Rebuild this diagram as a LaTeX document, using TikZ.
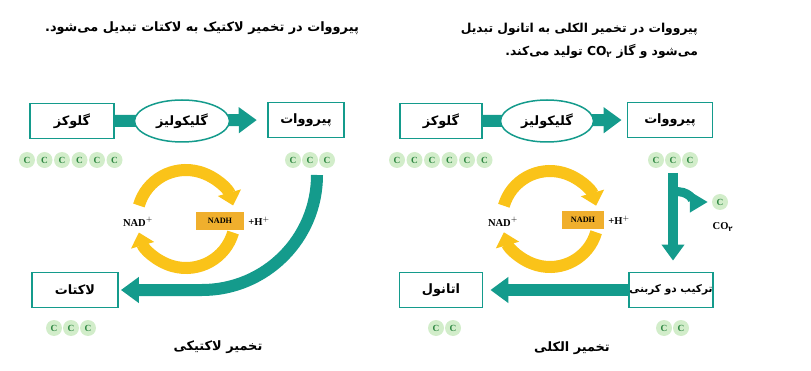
\documentclass[tikz,border=0pt]{standalone}
\usepackage{fontspec}
\setmainfont{Liberation Serif}
\newfontfamily\fafont[Script=Arabic]{DejaVu Sans}
\TeXXeTstate=1
\usetikzlibrary{
  arrows.meta,
  positioning,
  shapes.geometric
}
\definecolor{fermteal}{RGB}{20,155,140}
\definecolor{cycleyellow}{RGB}{250,195,25}
\definecolor{nadhfill}{RGB}{240,175,45}
\definecolor{carbonfill}{RGB}{210,237,202}
\definecolor{carbontext}{RGB}{45,135,65}
\newcommand{\fatext}[1]{{\fafont\beginR #1\endR}}
\tikzset{
  compound box/.style={
    draw=fermteal,
    line width=0.55mm,
    fill=white,
    minimum height=10.5mm,
    inner sep=1pt,
    font=\bfseries\fontsize{11}{13}\selectfont
  },
  enzyme/.style={
    ellipse,
    draw=fermteal,
    line width=0.45mm,
    fill=white,
    minimum width=28.5mm,
    minimum height=12.6mm,
    inner sep=0pt,
    font=\bfseries\fontsize{11}{13}\selectfont
  },
  carbon/.style={
    circle,
    fill=carbonfill,
    inner sep=0pt,
    minimum size=4.8mm,
    text=carbontext,
    font=\bfseries\footnotesize
  },
  flow arrow/.style={
    draw=fermteal,
    line width=3.6mm,
    -{Triangle[length=5.4mm,width=7.5mm]}
  },
  cycle arrow/.style={
    draw=cycleyellow,
    line width=3.6mm,
    -{Triangle[length=4mm,width=7mm]}
  },
  nadh box/.style={
    fill=nadhfill,
    minimum height=5.4mm,
    inner sep=0pt,
    font=\bfseries\scriptsize
  },
  caption/.style={
    font=\bfseries\fontsize{11}{13}\selectfont
  }
}

\begin{document}
\begin{tikzpicture}[x=0.3mm,y=-0.3mm]
  \useasboundingbox (0,0) rectangle (811,371);

    % ---------- lactic fermentation ----------
    \begin{scope}
      \node[caption] (ltitle) at (202,28)
        {\fatext{پیرووات در تخمیر لاکتیک به لاکتات تبدیل می‌شود.}};

      % glycolysis
      \node[compound box, minimum width=25mm] (lglc) at (72,121)
        {\fatext{گلوکز}};
      \node[compound box, minimum width=23mm] (lpyr) at (306,120)
        {\fatext{پیرووات}};
      \draw[flow arrow, shorten >=3mm] (lglc.east) -- (lpyr.west);
      \node[enzyme] (lgly) at (182,121) {\fatext{گلیکولیز}};

      \foreach \i/\x in {1/27,2/44.5,3/62,4/79.5,5/97,6/114.5}
        \node[carbon] (lg\i) at (\x,160) {C};
      \foreach \i/\x in {1/293,2/310,3/327}
        \node[carbon] (lp\i) at (\x,160) {C};

      % NAD cycle
      \coordinate (lcyc) at (186,219);
      \draw[cycle arrow] (lcyc) ++(196:49)
        arc[start angle=196, end angle=344, radius=49];
      \draw[cycle arrow] (lcyc) ++(16:49)
        arc[start angle=16, end angle=164, radius=49];
      \node[font=\bfseries\small] (lnad) at (138,222) {NAD$^{+}$};
      \node[nadh box, minimum width=14.4mm] (lnadh) at (220,221) {NADH};
      \node[font=\bfseries\small, right=0pt of lnadh] (lh) {+H$^{+}$};

      % pyruvate to lactate
      \node[compound box, minimum width=25.8mm] (llac) at (75,290)
        {\fatext{لاکتات}};
      \coordinate (lstart) at (317,175);
      \draw[flow arrow, shorten >=0.6mm] (lstart)
        arc[start angle=0, end angle=90, radius=115] -- (llac.east);

      \foreach \i/\x in {1/54,2/71,3/88}
        \node[carbon] (ll\i) at (\x,328) {C};

      \node[caption] (lcap) at (218,347) {\fatext{تخمیر لاکتیکی}};
    \end{scope}

    % ---------- alcoholic fermentation ----------
    \begin{scope}
      \node[caption, anchor=east, align=right,
        font=\bfseries\fontsize{10.5}{13}\selectfont] (rtitle) at (702,41)
        {\fatext{پیرووات در تخمیر الکلی به اتانول تبدیل}\\[7pt]
         \fatext{می‌شود و گاز \beginL CO\textsubscript{\fafont ۲}\endL{} تولید می‌کند.}};

      % glycolysis
      \node[compound box, minimum width=24.6mm] (rglc) at (441,121)
        {\fatext{گلوکز}};
      \node[compound box, minimum width=25.5mm] (rpyr) at (670,120)
        {\fatext{پیرووات}};
      \draw[flow arrow, shorten >=1.5mm] (rglc.east) -- (rpyr.west);
      \node[enzyme, minimum width=27.9mm] (rgly) at (547,121)
        {\fatext{گلیکولیز}};

      \foreach \i/\x in {1/397,2/414.5,3/432,4/449.5,5/467,6/484.5}
        \node[carbon] (rg\i) at (\x,160) {C};
      \foreach \i/\x in {1/656,2/673,3/690}
        \node[carbon] (rp\i) at (\x,160) {C};

      % NAD cycle
      \coordinate (rcyc) at (550,219);
      \draw[cycle arrow] (rcyc) ++(196:48)
        arc[start angle=196, end angle=344, radius=48];
      \draw[cycle arrow] (rcyc) ++(16:48)
        arc[start angle=16, end angle=164, radius=48];
      \node[font=\bfseries\small] (rnad) at (503,222) {NAD$^{+}$};
      \node[nadh box, minimum width=12.6mm] (rnadh) at (583,220) {NADH};
      \node[font=\bfseries\small, right=0pt of rnadh] (rh) {+H$^{+}$};

      % decarboxylation
      \node[compound box, minimum width=25.2mm, inner sep=0pt,
        font=\bfseries\small] (rtc) at (671,290)
        {\fatext{ترکیب دو کربنی}};
      \coordinate (rstart) at (673,173);
      \draw[flow arrow, line width=3mm,
        -{Triangle[length=4.8mm,width=6.6mm]}, shorten >=3.3mm]
        (rstart) -- (rtc.north -| rstart);
      \node[carbon] (rco) at (720,202) {C};
      \node[font=\bfseries\small] (rcolab) at (723,227)
        {CO\textsubscript{\fafont ۲}};
      \coordinate (rsplit) at (673,192);
      \draw[flow arrow, line width=2.7mm,
        -{Triangle[length=5.4mm,width=6mm]}, shorten >=1.2mm]
        (rsplit) to[out=10, in=180] (rco.west);

      % two-carbon compound to ethanol
      \node[compound box, minimum width=24.9mm] (reth) at (441,290)
        {\fatext{اتانول}};
      \draw[flow arrow, shorten >=2.1mm] (rtc.west) -- (reth.east);

      \foreach \i/\x in {1/436,2/453}
        \node[carbon] (re\i) at (\x,328) {C};
      \foreach \i/\x in {1/664,2/681}
        \node[carbon] (rt\i) at (\x,328) {C};

      \node[caption] (rcap) at (572,348) {\fatext{تخمیر الکلی}};
    \end{scope}

\end{tikzpicture}
\end{document}
